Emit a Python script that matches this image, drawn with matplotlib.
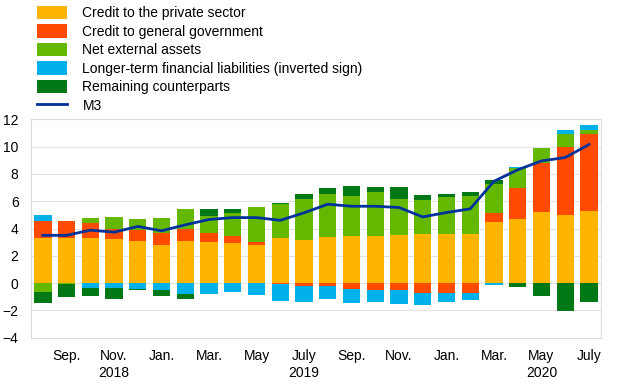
import numpy as np
import matplotlib.pyplot as plt

plt.rcParams['font.family'] = ['Liberation Sans', 'DejaVu Sans']

# monthly contributions to M3 growth, Aug 2018 - Jul 2020
months = ["Aug", "Sep", "Oct", "Nov", "Dec", "Jan", "Feb", "Mar", "Apr", "May", "Jun", "Jul",
          "Aug", "Sep", "Oct", "Nov", "Dec", "Jan", "Feb", "Mar", "Apr", "May", "Jun", "Jul"]
private = [3.32, 3.32, 3.32, 3.20, 3.10, 2.76, 3.05, 3.02, 2.93, 2.80, 3.27, 3.17,
           3.37, 3.46, 3.46, 3.49, 3.59, 3.59, 3.59, 4.51, 4.71, 5.20, 5.00, 5.27]
government = [1.24, 1.24, 1.05, 0.78, 0.78, 0.88, 0.95, 0.68, 0.51, 0.24, -0.10, -0.20,
              -0.20, -0.41, -0.49, -0.51, -0.71, -0.73, -0.73, 0.59, 2.29, 3.61, 4.95, 5.63]
external = [-0.63, -0.08, 0.41, 0.88, 0.78, 1.10, 1.41, 1.20, 1.73, 2.56, 2.54, 3.00,
            3.17, 2.93, 3.22, 2.68, 2.51, 2.71, 2.78, 2.15, 1.41, 1.07, 0.95, 0.32]
longterm = [0.44, 0.00, -0.37, -0.37, -0.41, -0.49, -0.78, -0.78, -0.68, -0.85, -1.24, -1.17,
            -1.00, -1.07, -0.93, -1.05, -0.90, -0.68, -0.51, -0.17, 0.07, 0.00, 0.34, 0.34]
remaining = [-0.85, -0.95, -0.60, -0.80, -0.10, -0.44, -0.39, 0.51, 0.27, 0.00, 0.07, 0.37,
             0.44, 0.71, 0.39, 0.90, 0.37, 0.24, 0.32, 0.34, -0.32, -0.95, -2.05, -1.39]
m3 = [3.50, 3.50, 3.88, 3.73, 4.15, 3.83, 4.27, 4.66, 4.80, 4.80, 4.60, 5.15,
      5.78, 5.63, 5.63, 5.54, 4.85, 5.17, 5.44, 7.46, 8.30, 8.95, 9.20, 10.15]

tick_labels = {1: "Sep.", 3: "Nov.\n2018", 5: "Jan.", 7: "Mar.", 9: "May", 11: "July\n2019",
               13: "Sep.", 15: "Nov.", 17: "Jan.", 19: "Mar.", 21: "May\n2020", 23: "July"}

series = [
    ("Credit to the private sector", private, "#FFB400"),
    ("Credit to general government", government, "#FF4B00"),
    ("Net external assets", external, "#65B800"),
    ("Longer-term financial liabilities (inverted sign)", longterm, "#00B1EA"),
    ("Remaining counterparts", remaining, "#007816"),
]

fig = plt.figure(figsize=(6.2, 3.87), dpi=100)
ax = fig.add_axes([0.05, 0.1274, 0.919, 0.5643])

x = np.arange(len(months))
pos_base = np.zeros(len(x))
neg_base = np.zeros(len(x))
handles = []
for name, vals, color in series:
    v = np.array(vals)
    base = np.where(v >= 0, pos_base, neg_base)
    h = ax.bar(x, v, 0.73, bottom=base, color=color, label=name, zorder=2)
    handles.append(h)
    pos_base += np.where(v >= 0, v, 0)
    neg_base += np.where(v < 0, v, 0)

line, = ax.plot(x, m3, color="#003299", lw=2, label="M3", zorder=3)
handles.append(line)

ax.set_xlim(-0.5, 23.5)
ax.set_ylim(-4, 12)
ax.set_yticks(range(-4, 13, 2))
ax.set_xticks(list(tick_labels.keys()))
ax.set_xticklabels(list(tick_labels.values()), fontsize=10, va="top", linespacing=1.3)
ax.tick_params(axis="both", length=0, labelsize=10)
ax.tick_params(axis="x", pad=8)
ax.tick_params(axis="y", pad=9)
ax.grid(axis="y", color="#e3e3e3", lw=0.8, zorder=0)
for s in ax.spines.values():
    s.set_color("#dcdcdc")

fig.legend(handles=handles, loc="upper left", bbox_to_anchor=(0.05, 1.0),
           frameon=False, fontsize=10, handlelength=2.2, handleheight=1.15,
           handletextpad=1.1, labelspacing=0.28, borderaxespad=0)

fig.savefig("out.png", dpi=100)
